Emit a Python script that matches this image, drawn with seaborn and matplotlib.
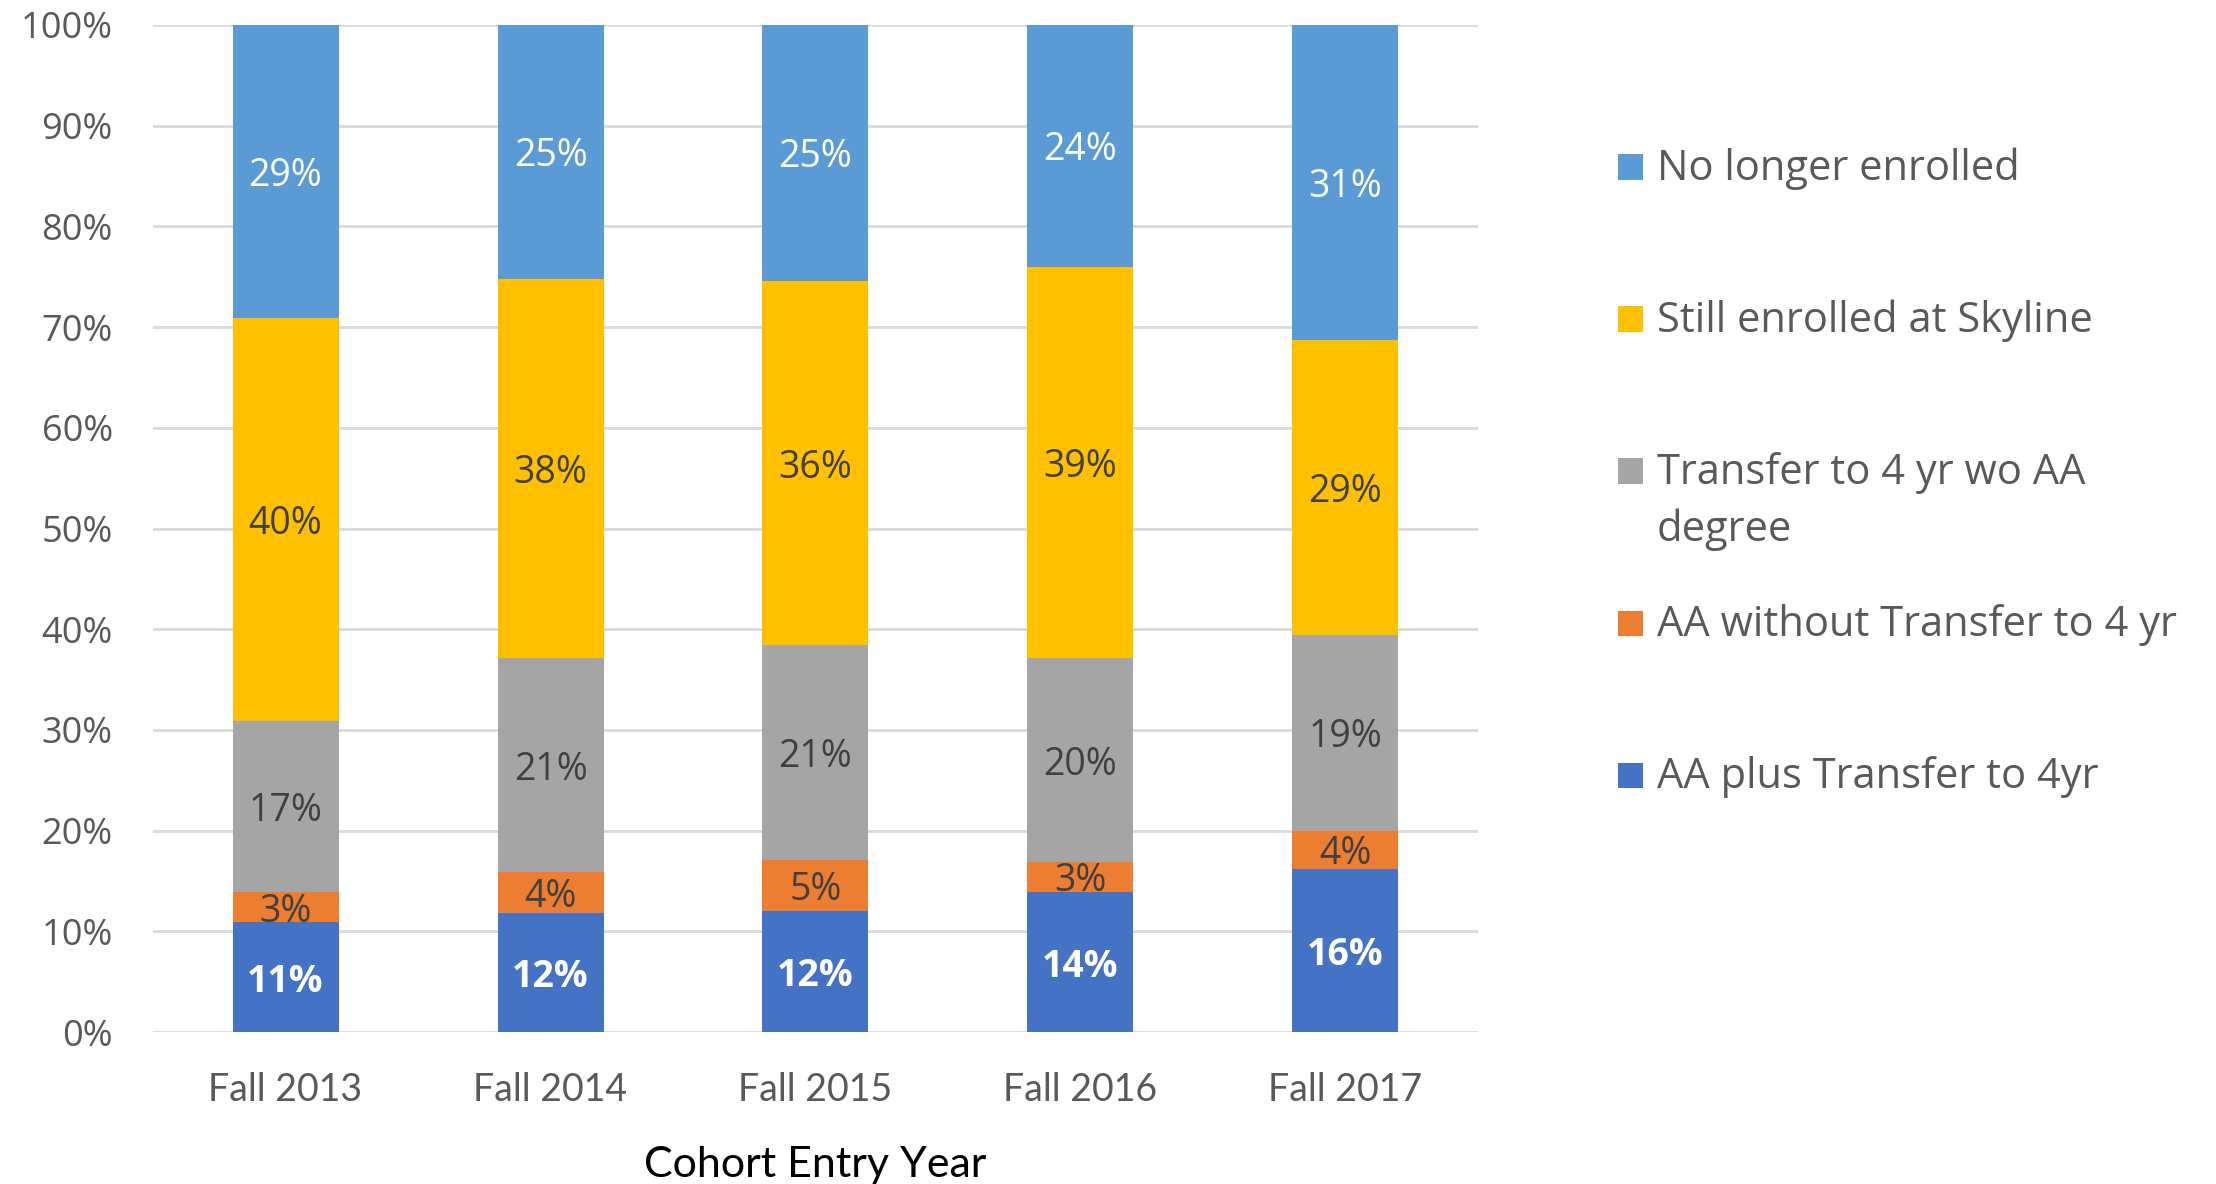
import matplotlib
matplotlib.use("Agg")
import matplotlib.pyplot as plt
import pandas as pd
import seaborn as sns
from matplotlib.patches import Rectangle

sns.set_style("white")
plt.rcParams["font.family"] = ["Open Sans", "DejaVu Sans"]

COHORTS = ["Fall 2013", "Fall 2014", "Fall 2015", "Fall 2016", "Fall 2017"]

# stacking order, bottom to top
SERIES = [
    "AA plus Transfer to 4yr",
    "AA without Transfer to 4 yr",
    "Transfer to 4 yr wo AA degree",
    "Still enrolled at Skyline",
    "No longer enrolled",
]
LEGEND_LABELS = [
    "AA plus Transfer to 4yr",
    "AA without Transfer to 4 yr",
    "Transfer to 4 yr wo AA\ndegree",
    "Still enrolled at Skyline",
    "No longer enrolled",
]

# shares in percent
AA_PLUS_TRANSFER = [10.9, 11.8, 12.0, 13.9, 16.2]
AA_NO_TRANSFER = [3.0, 4.1, 5.1, 3.0, 3.8]
TRANSFER_NO_AA = [17.0, 21.2, 21.3, 20.2, 19.4]
STILL_ENROLLED = [40.0, 37.7, 36.2, 38.9, 29.3]
NOT_ENROLLED = [29.1, 25.2, 25.4, 24.0, 31.3]

COLORS = ["#4472C4", "#ED7D31", "#A5A5A5", "#FFC000", "#5B9BD5"]
LABEL_COLORS = ["white", "#404040", "#404040", "#404040", "white"]
LABEL_WEIGHTS = ["bold", "normal", "normal", "normal", "normal"]

W, H = 2216, 1184
DPI = 100

df = pd.DataFrame(
    {
        SERIES[0]: AA_PLUS_TRANSFER,
        SERIES[1]: AA_NO_TRANSFER,
        SERIES[2]: TRANSFER_NO_AA,
        SERIES[3]: STILL_ENROLLED,
        SERIES[4]: NOT_ENROLLED,
    },
    index=COHORTS,
)
cum = df.cumsum(axis=1)
cum_long = cum.reset_index(names="Cohort")

fig = plt.figure(figsize=(W / DPI, H / DPI), dpi=DPI)
ax = fig.add_axes([153 / W, 1 - 1032 / H, (1478 - 153) / W, (1032 - 25) / H])

# draw cumulative totals from the top series down so each layer covers the next
for name, color in reversed(list(zip(SERIES, COLORS))):
    sns.barplot(
        data=cum_long, x="Cohort", y=name, color=color, saturation=1,
        width=0.4, linewidth=0, errorbar=None, ax=ax, zorder=3,
    )

for name, tcol, weight in zip(SERIES, LABEL_COLORS, LABEL_WEIGHTS):
    mids = cum[name] - df[name] / 2
    for i, (v, m) in enumerate(zip(df[name], mids)):
        ax.text(i, m, f"{v:.0f}%", ha="center", va="center_baseline", fontsize=27,
                color=tcol, fontweight=weight, zorder=4)

ax.set_xlim(-0.5, len(COHORTS) - 0.5)
ax.set_ylim(0, 100)
ax.set_yticks(range(0, 101, 10), [f"{t}%" for t in range(0, 101, 10)])
ax.set_xticks(range(len(COHORTS)), COHORTS, fontfamily="Lato")
ax.tick_params(axis="y", length=0, pad=29, labelsize=26, labelcolor="#595959")
ax.tick_params(axis="x", length=0, pad=29, labelsize=27, labelcolor="#595959")
ax.yaxis.grid(True, color="#D9D9D9", linewidth=2)
ax.xaxis.grid(False)
ax.set_axisbelow(True)
for side in ax.spines:
    ax.spines[side].set_visible(False)
ax.set_ylabel("")
ax.set_xlabel("Cohort Entry Year", fontfamily="Lato", fontsize=31, color="black", labelpad=27)

# legend on the right, top entry first; wrapped labels continue on extra lines
for k, (label, color) in enumerate(zip(reversed(LEGEND_LABELS), reversed(COLORS))):
    yc = 167 + 152 * k
    fig.patches.append(Rectangle((1618 / W, 1 - (yc + 12.5) / H), 25 / W, 25 / H,
                                 transform=fig.transFigure, facecolor=color, edgecolor="none"))
    for j, line in enumerate(label.split("\n")):
        fig.text(1657 / W, 1 - (yc + 13 + 57 * j) / H, line, ha="left", va="baseline",
                 fontsize=30, color="#595959")

fig.savefig("out.png", dpi=DPI)
